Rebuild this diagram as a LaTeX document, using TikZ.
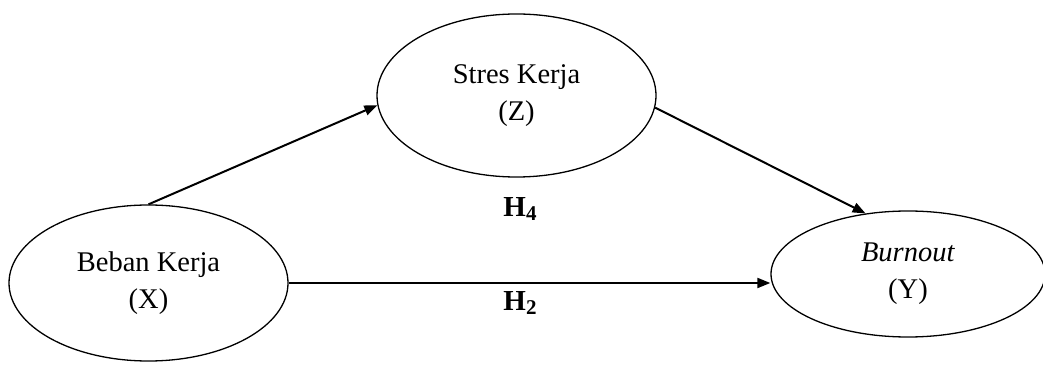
\documentclass[tikz,border=0pt]{standalone}
\usepackage{fontspec}
\setmainfont{Liberation Serif}
\usetikzlibrary{arrows.meta,shapes.geometric}

\newcommand{\hypfont}{\fontsize{29}{29}\selectfont\bfseries}
\newcommand{\hypsub}[1]{{\hypfont H\raisebox{-0.3ex}{\fontsize{21}{21}\selectfont\bfseries #1}}}

\tikzset{
  construct/.style={ellipse, draw, line width=1.3pt, inner sep=0pt,
    align=center, font=\fontsize{28.5}{37}\selectfont},
  link/.style={line width=2pt, -{Triangle[length=13pt,width=10pt]}},
  hyplabel/.style={inner sep=0pt}
}

\begin{document}
\begin{tikzpicture}[x=1pt,y=1pt]
  \useasboundingbox (0,0) rectangle (1043,364);

  % latent variables
  \node[construct, minimum width=279pt, minimum height=163pt] (Z) at (516.5,268.5)
    {Stres Kerja\\(Z)};
  \node[construct, minimum width=279pt, minimum height=156pt] (X) at (148.5,81)
    {Beban Kerja\\(X)};
  \node[construct, minimum width=274pt, minimum height=126pt] (Y) at (908,90)
    {\textit{Burnout}\\(Y)};

  % hypothesised paths
  \draw[link] (X.north) -- (Z.184);
  \draw[link] (Z.355) -- (Y.125);
  \draw[link] (X.east) -- (X.east -| Y.west);

  % hypothesis labels
  \node[hyplabel] (h4) at (520,155) {\hypsub{4}};
  \node[hyplabel] (h2) at (520,61) {\hypsub{2}};
\end{tikzpicture}
\end{document}
